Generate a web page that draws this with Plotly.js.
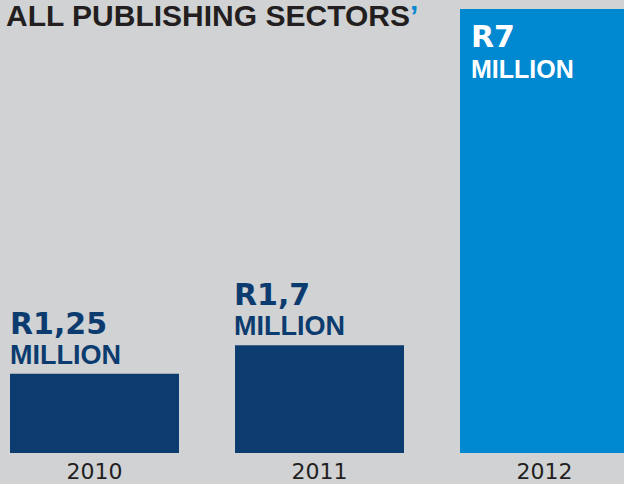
<!DOCTYPE html>
<html>
<head>
<meta charset="utf-8">
<script src="https://cdn.plot.ly/plotly-3.0.1.min.js"></script>
<style>html,body{margin:0;padding:0;background:#d1d2d4;}#chart{width:624px;height:484px;}</style>
</head>
<body>
<div id="chart"></div>
<script>
// Data
var years = ["2010", "2011", "2012"];
var values = [1.25, 1.7, 7];           // R million
var amountLabels = ["R1,25", "R1,7", "R7"];
var unitLabels = ["MILLION", "MILLION", "MILLION"];
var titleText = "ALL PUBLISHING SECTORS";

// Styles
var darkBlue = "#0b3b6f", brightBlue = "#0088d1", bg = "#d1d2d4", ink = "#231f20";
var barColors = [darkBlue, darkBlue, brightBlue];
var inside = [false, false, true];

var trace = {
  type: "bar",
  x: years,
  y: values,
  width: 0.751,
  marker: {color: barColors, line: {width: 0}},
  hoverinfo: "none"
};

var annotations = [];
for (var i = 0; i < years.length; i++) {
  var inBar = inside[i];
  var col = inBar ? "#ffffff" : darkBlue;
  annotations.push({
    xref: "x", yref: "y", x: i, y: values[i],
    xanchor: "left", yanchor: inBar ? "top" : "bottom",
    xshift: inBar ? -76 : (i === 0 ? -87 : -88),
    yshift: inBar ? -8 : 2,
    align: "left",
    text: "<span style='font-size:30px;font-family:DejaVu Sans'><b>" + amountLabels[i] +
          "</b></span><br><span style='font-size:" + (inBar ? 25 : 27) + "px'><b>" +
          unitLabels[i] + "</b></span>",
    showarrow: false,
    font: {family: "Liberation Sans", size: inBar ? 23.5 : 23, color: col}
  });
}
annotations.push({
  xref: "paper", yref: "paper", x: 0, y: 1, xanchor: "left", yanchor: "bottom",
  xshift: 4, yshift: -34,
  text: "<b>" + titleText + "</b><span style='color:" + brightBlue + "'><b>’</b></span>",
  showarrow: false,
  font: {family: "Liberation Sans", size: 30, color: ink}
});

var layout = {
  width: 624, height: 484,
  margin: {l: 0, r: 0, t: 0, b: 31, pad: 0},
  paper_bgcolor: bg, plot_bgcolor: bg,
  showlegend: false,
  xaxis: {
    type: "category", range: [-0.42, 2.3533],
    showgrid: false, zeroline: false, showline: false, ticks: "",
    tickfont: {family: "DejaVu Sans", size: 22, color: ink},
    ticklabelstandoff: 3
  },
  yaxis: {range: [0, 7.142], showgrid: false, zeroline: false, showline: false,
          showticklabels: false, ticks: "", fixedrange: true},
  annotations: annotations
};

Plotly.newPlot("chart", [trace], layout, {displayModeBar: false, staticPlot: true});
</script>
</body>
</html>
